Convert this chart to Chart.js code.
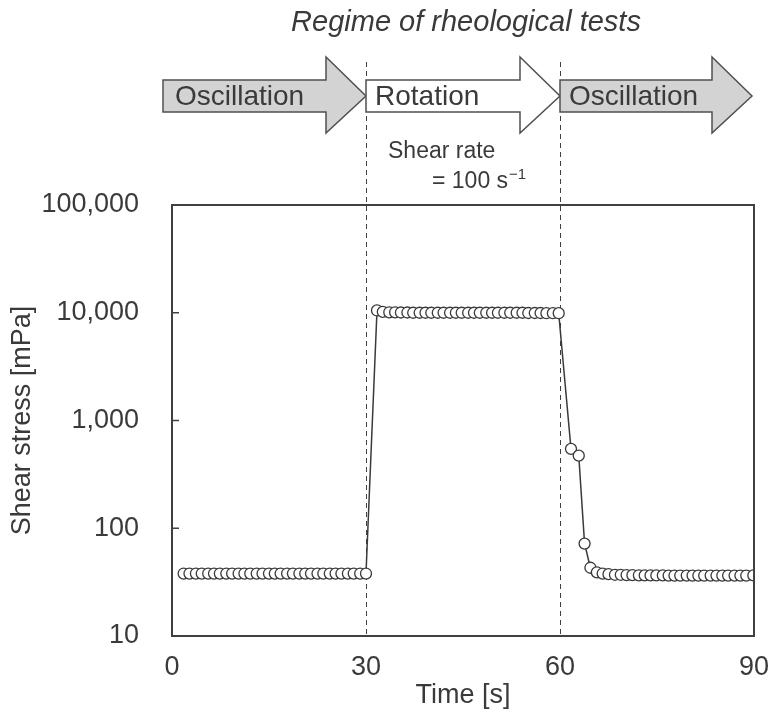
<!DOCTYPE html>
<html><head><meta charset="utf-8">
<script src="https://cdn.jsdelivr.net/npm/chart.js@4/dist/chart.umd.min.js"></script>
<style>html,body{margin:0;padding:0;background:#fff}#wrap{width:771px;height:718px}</style>
</head><body><div id="wrap"><canvas id="c" width="771" height="718"></canvas></div>
<script>
const timeS = [1.8,2.7,3.7,4.6,5.6,6.5,7.4,8.4,9.3,10.3,11.2,12.1,13.1,14.0,15.0,15.9,16.8,17.8,18.7,19.7,20.6,21.5,22.5,23.4,24.4,25.3,26.2,27.2,28.1,29.1,30.0,
  31.7,32.6,33.6,34.5,35.4,36.4,37.3,38.3,39.2,40.1,41.1,42.0,43.0,43.9,44.8,45.8,46.7,47.6,48.6,49.5,50.4,51.4,52.3,53.3,54.2,55.1,56.1,57.0,57.9,58.9,59.8,
  61.7,62.9,63.8,64.7,65.7,66.6,67.5,68.5,69.4,70.3,71.2,72.2,73.1,74.0,74.9,75.9,76.8,77.7,78.6,79.6,80.5,81.4,82.3,83.3,84.2,85.1,86.0,87.0,87.9,88.8,89.9];
const shearStress = [38,38,38,38,38,38,38,38,38,38,38,38,38,38,38,38,38,38,38,38,38,38,38,38,38,38,38,38,38,38,38,
  10500,10200,10100,10100,10050,10050,10000,10000,10000,10000,10000,10000,10000,10000,10000,10000,10000,10000,10000,10000,10000,10000,10000,10000,10000,9950,9950,9950,9900,9900,9900,
  546,472,72,43,39,38,37.5,37,37,36.8,36.7,36.6,36.5,36.5,36.5,36.5,36.4,36.4,36.4,36.4,36.4,36.4,36.4,36.4,36.4,36.4,36.4,36.4,36.4,36.4,36.5];
const yTicks = [10,100,1000,10000,100000];
const xTicks = [0,30,60,90];
const phaseNames = ['Oscillation','Rotation','Oscillation'];
const phaseBounds = [0,30,60,90];
const phaseFill = ['#d3d3d3','#ffffff','#d3d3d3'];
const titleText = 'Regime of rheological tests';

const FONT = '"Liberation Sans", Arial, sans-serif';
const TXT = '#3a3a3a';

const decor = {
  id:'decor',
  beforeDatasetsDraw(chart){
    const {ctx, chartArea:a, scales:{x}} = chart;
    ctx.save();
    ctx.strokeStyle='#404040'; ctx.lineWidth=1; ctx.setLineDash([5,4]);
    [phaseBounds[1],phaseBounds[2]].forEach(v=>{
      const px=Math.round(x.getPixelForValue(v))+0.5;
      ctx.beginPath(); ctx.moveTo(px,62); ctx.lineTo(px,a.bottom); ctx.stroke();
    });
    ctx.restore();
  },
  afterDraw(chart){
    const {ctx, chartArea:a, scales:{x,y}} = chart;
    ctx.save();
    ctx.strokeStyle='#404040'; ctx.lineWidth=2;
    ctx.strokeRect(a.left,a.top,a.right-a.left,a.bottom-a.top);
    ctx.lineWidth=1.5;
    yTicks.forEach(v=>{const py=y.getPixelForValue(v);ctx.beginPath();ctx.moveTo(a.left,py);ctx.lineTo(a.left+7,py);ctx.stroke();});
    ctx.fillStyle=TXT; ctx.font='italic 29px '+FONT; ctx.textAlign='center'; ctx.textBaseline='middle';
    ctx.fillText(titleText,466,23);
    const bt=80, bb=112, ht=57, hb=133, cy=(bt+bb)/2;
    for(let i=0;i<3;i++){
      const l = x.getPixelForValue(phaseBounds[i]) - (i===0?9:0);
      const tip = x.getPixelForValue(phaseBounds[i+1]) - (i===2?2:0);
      const hs = tip-40;
      ctx.beginPath();
      ctx.moveTo(l,bt);ctx.lineTo(hs,bt);ctx.lineTo(hs,ht);ctx.lineTo(tip,cy);ctx.lineTo(hs,hb);ctx.lineTo(hs,bb);ctx.lineTo(l,bb);ctx.closePath();
      ctx.fillStyle=phaseFill[i]; ctx.fill();
      ctx.strokeStyle='#505050'; ctx.lineWidth=1.5; ctx.setLineDash([]); ctx.stroke();
      ctx.fillStyle=TXT; ctx.font='28px '+FONT; ctx.textAlign='left';
      ctx.fillText(phaseNames[i], l+(i===0?12:9), cy+1);
    }
    ctx.font='23px '+FONT; ctx.textAlign='left';
    ctx.fillText('Shear rate', 388, 152);
    ctx.fillText('= 100 s', 432, 182);
    const w=ctx.measureText('= 100 s').width;
    ctx.font='15px '+FONT; ctx.fillText('\u22121', 432+w+1, 175);
    ctx.restore();
  }
};

new Chart(document.getElementById('c'),{
  type:'line',
  data:{datasets:[{
    data: timeS.map((t,i)=>({x:t,y:shearStress[i]})),
    borderColor:'#3a3a3a', borderWidth:1.5,
    pointRadius:5.5, pointBackgroundColor:'#ffffff', pointBorderColor:'#3a3a3a', pointBorderWidth:1.3,
    tension:0, fill:false
  }]},
  options:{
    responsive:false, animation:false, devicePixelRatio:1,
    layout:{padding:{left:0,right:17,top:205,bottom:0}},
    plugins:{legend:{display:false},tooltip:{enabled:false}},
    scales:{
      x:{type:'linear',min:0,max:90,
        afterBuildTicks(s){s.ticks=xTicks.map(v=>({value:v}));},
        afterFit(s){s.height=82;s.paddingLeft=0;s.paddingRight=0;},
        grid:{display:false,drawTicks:false}, border:{display:false},
        ticks:{color:TXT,font:{family:FONT,size:27},padding:15,maxRotation:0},
        title:{display:true,text:'Time [s]',color:TXT,font:{family:FONT,size:27},padding:{top:0,bottom:6}}
      },
      y:{type:'logarithmic',min:10,max:100000,
        afterBuildTicks(s){s.ticks=yTicks.map(v=>({value:v}));},
        afterFit(s){s.width=172;s.paddingTop=0;s.paddingBottom=0;},
        grid:{display:false,drawTicks:false}, border:{display:false},
        ticks:{color:TXT,font:{family:FONT,size:27},padding:33,callback:v=>Number(v).toLocaleString('en-US')},
        title:{display:true,text:'Shear stress [mPa]',color:TXT,font:{family:FONT,size:27},padding:{top:6,bottom:0}}
      }
    }
  },
  plugins:[decor]
});
</script></body></html>
